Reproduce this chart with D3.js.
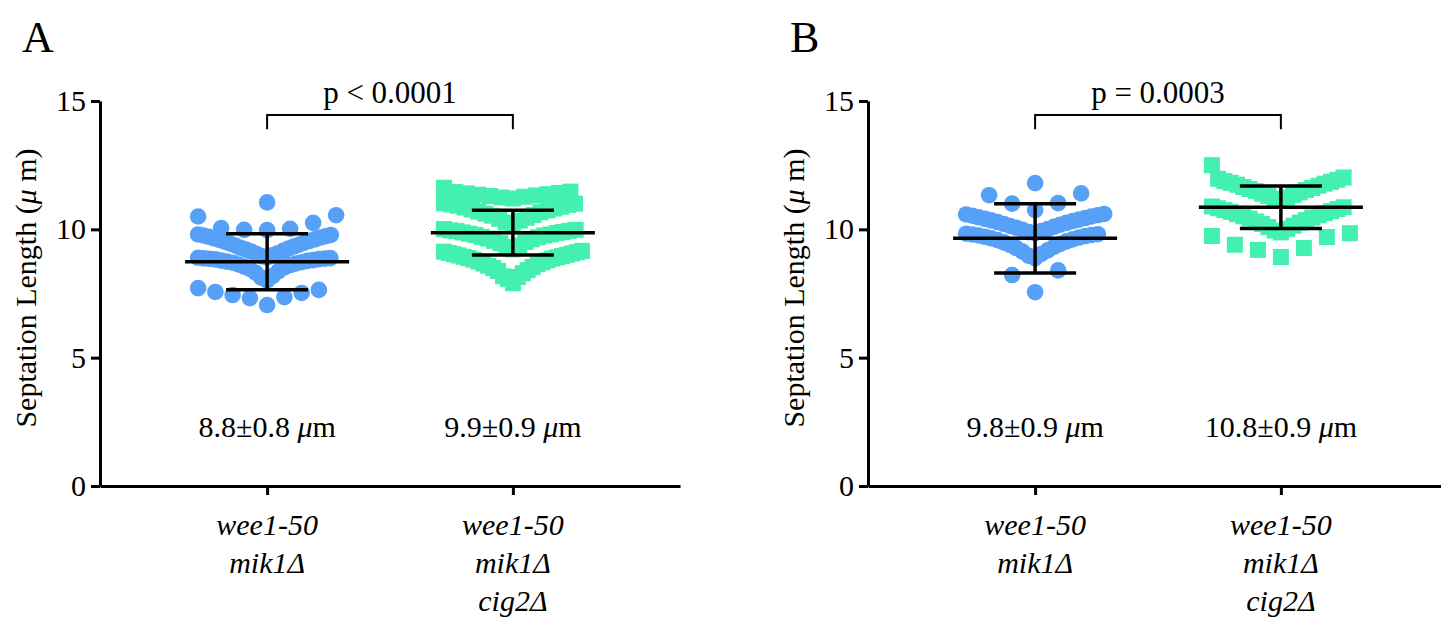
<!DOCTYPE html>
<html>
<head>
<meta charset="utf-8" />
<title>Septation length</title>
<script src="https://d3js.org/d3.v7.min.js"></script>
<style>
  body { margin: 0; background: #fff; }
  svg { font-family: "Liberation Serif", serif; }
  .axis path, .axis line { stroke: #000; stroke-width: 3; }
  .axis text { font-size: 30px; fill: #000; font-family: "Liberation Serif", serif; }
</style>
</head>
<body>
<svg id="chart" width="1441" height="628"></svg>
<script>

// ---- data ----
var categories = [["wee1-50", "mik1\u0394"], ["wee1-50", "mik1\u0394", "cig2\u0394"]];
var yTicks = [0, 5, 10, 15];

// panel A
var aMik1 = [7.05, 7.32, 7.36, 7.44, 7.52, 7.56, 7.64, 7.71,
  8.01, 8.12, 8.19, 8.31, 8.37, 8.46, 8.52, 8.55, 8.61, 8.63, 8.67, 8.70, 8.72, 8.74, 8.77, 8.78, 8.80, 8.83, 8.84, 8.85, 8.86, 8.87, 8.88, 8.89,
  8.91, 8.95, 8.99, 9.04, 9.07, 9.13, 9.16, 9.21, 9.25, 9.28, 9.33, 9.37, 9.40, 9.45, 9.48, 9.52, 9.55, 9.59, 9.61, 9.65, 9.68, 9.71, 9.73, 9.76, 9.78, 9.80,
  9.97, 9.98, 10.02, 10.05, 10.25, 10.50, 10.55,
  11.05];
var aCig2 = [7.90, 8.06, 8.14, 8.17, 8.29, 8.38, 8.41,
  8.49, 8.53, 8.58, 8.64, 8.67, 8.72, 8.75, 8.79, 8.82, 8.86, 8.88, 8.91, 8.93, 8.96, 8.98, 9.01, 9.03, 9.06, 9.08, 9.11, 9.13, 9.16,
  9.22, 9.31, 9.37, 9.46, 9.51, 9.55, 9.61, 9.64, 9.69, 9.71, 9.76, 9.78, 9.80, 9.83, 9.86, 9.88, 9.90, 9.93, 9.94, 9.96, 9.98, 10.01,
  10.17, 10.26, 10.34, 10.41, 10.45, 10.53, 10.56, 10.61, 10.67, 10.69, 10.74, 10.77, 10.81, 10.85, 10.88, 10.92, 10.95, 10.97, 11.00, 11.02,
  11.20, 11.24, 11.27, 11.30, 11.32, 11.35, 11.37, 11.40, 11.42, 11.45, 11.47, 11.62];
var aMeans = [8.74, 9.87];
var aSD = [1.09, 0.87];
var aLabels = ["8.8\u00b10.8", "9.9\u00b10.9"];
var aP = "p < 0.0001";

// panel B
var bMik1 = [7.55, 8.22, 8.40,
  8.88, 8.97, 9.04, 9.13, 9.18, 9.27, 9.32, 9.39, 9.43, 9.49, 9.53, 9.58, 9.61, 9.65, 9.68, 9.71, 9.74, 9.76, 9.78, 9.80, 9.81, 9.83,
  9.85, 9.89, 9.93, 9.98, 10.01, 10.06, 10.10, 10.13, 10.18, 10.21, 10.25, 10.28, 10.32, 10.35, 10.38, 10.41, 10.44, 10.47, 10.50, 10.53, 10.55, 10.58, 10.60,
  10.75, 11.00, 11.02, 11.33, 11.40,
  11.80];
var bCig2 = [8.92, 9.20, 9.27, 9.40, 9.70, 9.74, 9.85,
  9.88, 9.95, 10.02, 10.09, 10.14, 10.21, 10.26, 10.31, 10.36, 10.42, 10.46, 10.51, 10.55, 10.59, 10.63, 10.68, 10.71, 10.75, 10.79, 10.82, 10.86, 10.89,
  11.14, 11.19, 11.24, 11.30, 11.34, 11.39, 11.44, 11.49, 11.53, 11.57, 11.61, 11.65, 11.70, 11.74, 11.78, 11.81, 11.85, 11.88, 11.93, 11.97, 12.02, 12.50];
var bMeans = [9.65, 10.86];
var bSD = [1.35, 0.83];
var bLabels = ["9.8\u00b10.9", "10.8\u00b10.9"];
var bP = "p = 0.0003";

// ---- layout settings ----
var blue = "#56a1f7", green = "#44f0b0";
var spread = 138, maxStep = 23;   // scatter width per row (px)

var panels = [
  { letter: "A", x0: 100, groups: [aMik1, aCig2], edges: [[6.9, 7.95, 8.9, 9.9, 10.8, 11.8], [7.85, 9.2, 10.05, 11.1, 11.9]],
    means: aMeans, sd: aSD, labels: aLabels, p: aP },
  { letter: "B", x0: 868, groups: [bMik1, bCig2], edges: [[7.4, 8.6, 9.84, 10.7, 11.6, 12.2], [8.8, 9.87, 10.95, 12.7]],
    means: bMeans, sd: bSD, labels: bLabels, p: bP }
];

var svg = d3.select("#chart");
var y = d3.scaleLinear().domain([0, 15]).range([486, 101]);

// bin values into rows, spread each row sideways (lowest in the middle)
function swarm(values, edges) {
  var out = [];
  for (var b = 0; b < edges.length - 1; b++) {
    var bin = values.filter(function (v) { return v >= edges[b] && v < edges[b + 1]; }).sort(d3.ascending);
    var n = bin.length;
    var s = n > 1 ? Math.min(maxStep, spread / (2 * Math.ceil((n - 1) / 2))) : 0;
    bin.forEach(function (v, i) {
      var k = Math.ceil(i / 2);
      var side = i % 2 === 1 ? -1 : 1;
      out.push({ value: v, dx: side * k * s });
    });
  }
  return out;
}

panels.forEach(function (p) {
  var g = svg.append("g");
  var x = d3.scalePoint().domain([0, 1]).range([p.x0, p.x0 + 580]).padding(0.68);

  // panel letter
  g.append("text").attr("x", p.x0 - 78).attr("y", 52)
    .style("font-size", "44px").text(p.letter);

  // axes
  g.append("g").attr("class", "axis")
    .attr("transform", "translate(" + p.x0 + ",0)")
    .call(d3.axisLeft(y).tickValues(yTicks).tickSize(9).tickSizeOuter(0).tickPadding(5));

  g.append("g").attr("class", "axis")
    .attr("transform", "translate(0," + y(0) + ")")
    .call(d3.axisBottom(x).tickSize(9).tickSizeOuter(0).tickFormat(""));

  // y title
  var t = g.append("text")
    .attr("transform", "translate(" + (p.x0 - 64) + "," + 288 + ") rotate(-90)")
    .attr("text-anchor", "middle").style("font-size", "30px");
  t.append("tspan").text("Septation Length (");
  t.append("tspan").style("font-style", "italic").text("\u03bc");
  t.append("tspan").text(" m)");

  // category labels
  categories.forEach(function (lines, i) {
    var ct = g.append("text").attr("text-anchor", "middle")
      .style("font-size", "30px").style("font-style", "italic");
    lines.forEach(function (line, j) {
      ct.append("tspan").attr("x", x(i)).attr("y", 535 + j * 38).text(line);
    });
  });

  // points
  p.groups.forEach(function (vals, i) {
    var pts = swarm(vals, p.edges[i]);
    if (i === 0) {
      g.selectAll(".dot" + i).data(pts).enter().append("circle")
        .attr("cx", function (d) { return x(i) + d.dx; })
        .attr("cy", function (d) { return y(d.value); })
        .attr("r", 8.3).attr("fill", blue);
    } else {
      g.selectAll(".sq" + i).data(pts).enter().append("rect")
        .attr("x", function (d) { return x(i) + d.dx - 8; })
        .attr("y", function (d) { return y(d.value) - 8; })
        .attr("width", 16).attr("height", 16).attr("fill", green);
    }
  });

  // mean and SD
  p.means.forEach(function (m, i) {
    var cx = x(i);
    var lo = m - p.sd[i], hi = m + p.sd[i];
    var eb = g.append("g").attr("stroke", "#000").attr("stroke-width", 3.5);
    eb.append("line").attr("x1", cx).attr("x2", cx).attr("y1", y(lo)).attr("y2", y(hi));
    eb.append("line").attr("x1", cx - 41).attr("x2", cx + 41).attr("y1", y(lo)).attr("y2", y(lo));
    eb.append("line").attr("x1", cx - 41).attr("x2", cx + 41).attr("y1", y(hi)).attr("y2", y(hi));
    eb.append("line").attr("x1", cx - 82).attr("x2", cx + 82).attr("y1", y(m)).attr("y2", y(m));

    var mt = g.append("text").attr("x", cx).attr("y", y(1.9))
      .attr("text-anchor", "middle").style("font-size", "30px");
    mt.append("tspan").text(p.labels[i] + " ");
    mt.append("tspan").style("font-style", "italic").text("\u03bc");
    mt.append("tspan").text("m");
  });

  // significance bracket
  var top = y(14.45), drop = y(13.9);
  g.append("path")
    .attr("d", "M" + x(0) + "," + drop + "V" + top + "H" + x(1) + "V" + drop)
    .attr("fill", "none").attr("stroke", "#000").attr("stroke-width", 2);
  g.append("text").attr("x", (x(0) + x(1)) / 2).attr("y", 103)
    .attr("text-anchor", "middle").style("font-size", "31px").text(p.p);
});

</script>
</body>
</html>
